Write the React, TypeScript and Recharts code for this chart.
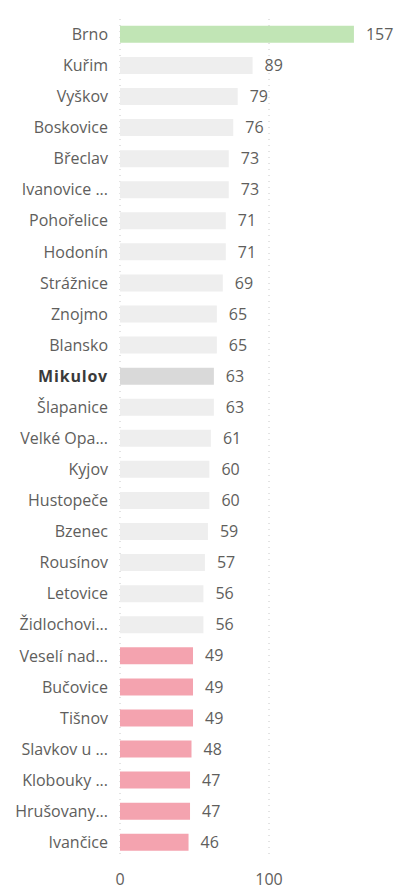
import React from "react";
import { BarChart, Bar, XAxis, YAxis, CartesianGrid, Cell, LabelList } from "recharts";

const categories = [
  "Brno", "Kuřim", "Vyškov", "Boskovice", "Břeclav", "Ivanovice ...", "Pohořelice", "Hodonín",
  "Strážnice", "Znojmo", "Blansko", "Mikulov", "Šlapanice", "Velké Opa...", "Kyjov", "Hustopeče",
  "Bzenec", "Rousínov", "Letovice", "Židlochovi...", "Veselí nad...", "Bučovice", "Tišnov",
  "Slavkov u ...", "Klobouky ...", "Hrušovany...", "Ivančice",
];
const values = [157, 89, 79, 76, 73, 73, 71, 71, 69, 65, 65, 63, 63, 61, 60, 60, 59, 57, 56, 56, 49, 49, 49, 48, 47, 47, 46];
const xTicks = [0, 100, 200];
const highlight = "Brno";
const selected = "Mikulov";
const lowCount = 7;

const data = categories.map((name, i) => ({ name, value: values[i] }));

const FONT = "'Open Sans', 'Noto Sans', sans-serif";
const TEXT = "#605E5C";
const FS = 16;

function colorFor(i: number, name: string) {
  if (name === highlight) return "#C1E5B5";
  if (name === selected) return "#D9D9D9";
  if (i >= categories.length - lowCount) return "#F4A3AF";
  return "#EEEEEE";
}

const YTick = (props: any) => {
  const { x, y, payload } = props;
  const bold = payload.value === selected;
  return (
    <text x={x} y={y} dy={5.5} textAnchor="end" fill={bold ? "#3A3A3A" : TEXT}
      fontFamily={FONT} fontSize={FS} fontWeight={bold ? 700 : 400}
      letterSpacing={bold ? 0.8 : 0}>
      {payload.value}
    </text>
  );
};

export default function App() {
  return (
    <div style={{ width: 440, height: 882 }}>
      <BarChart width={440} height={882} data={data} layout="vertical"
        margin={{ top: 11, right: 30, bottom: 0, left: 0 }} barCategoryGap="22%">
        <CartesianGrid horizontal={false} vertical={true} stroke="#C8C8C8" strokeDasharray="1 5" />
        <XAxis type="number" domain={[0, 200]} ticks={xTicks} axisLine={false} tickLine={false}
          tick={{ fill: TEXT, fontFamily: FONT, fontSize: FS }} tickMargin={10} height={32} />
        <YAxis type="category" dataKey="name" width={112} axisLine={false} tickLine={false}
          tick={<YTick />} interval={0} tickMargin={6} />
        <Bar dataKey="value" isAnimationActive={false}>
          {data.map((d, i) => (
            <Cell key={d.name} fill={colorFor(i, d.name)} />
          ))}
          <LabelList dataKey="value" position="right" offset={12}
            style={{ fill: TEXT, fontFamily: FONT, fontSize: FS }} />
        </Bar>
      </BarChart>
    </div>
  );
}
